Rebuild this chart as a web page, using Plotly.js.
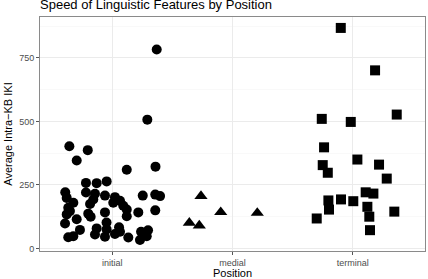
<!DOCTYPE html>
<html>
<head>
<meta charset="utf-8">
<script src="https://cdn.plot.ly/plotly-3.0.1.min.js"></script>
<style>html,body{margin:0;padding:0;background:#fff;}#chart{width:428px;height:279px;}</style>
</head>
<body>
<div id="chart"></div>
<script>
// Category labels and their positions on the x axis
const categories = ["initial", "medial", "terminal"];
const categoryPos = [1, 2, 3];

// initial (circles): jittered x position and Average Intra-KB IKI
const initialX = [1.370, 1.292, 0.644, 0.797, 0.705, 1.121, 1.360, 0.782, 0.871, 0.954,
  0.610, 0.622, 0.782, 0.857, 0.940, 1.023, 1.065, 1.254, 1.358, 1.398,
  0.677, 0.635, 0.816, 0.843, 1.092, 1.009, 0.940, 0.622, 0.801, 1.121,
  1.217, 1.358, 0.705, 0.608, 0.953, 0.732, 0.871, 0.954, 1.057, 1.065,
  1.240, 1.298, 0.635, 0.677, 0.857, 0.940, 1.023, 1.134, 1.231, 1.287,
  1.121, 0.821, 0.649];
const initialY = [783, 507, 402, 387, 346, 310, 322, 258, 257, 264,
  221, 199, 220, 215, 208, 202, 188, 208, 212, 206,
  180, 160, 175, 193, 168, 180, 142, 134, 137, 127,
  142, 150, 115, 98, 102, 73, 79, 75, 83, 66,
  66, 72, 44, 48, 55, 46, 57, 43, 33, 48,
  153, 125, 147];

// medial (triangles)
const medialX = [1.738, 1.902, 2.206, 1.641, 1.724];
const medialY = [206, 143, 140, 101, 90];

// terminal (squares)
const terminalX = [2.900, 3.185, 2.742, 2.983, 3.365, 2.761, 3.038, 2.750, 3.218, 2.792,
  3.282, 3.107, 3.171, 2.797, 2.902, 3.004, 3.121, 2.802, 3.345, 2.700,
  3.137, 3.143];
const terminalY = [868, 701, 510, 498, 527, 398, 350, 328, 330, 298,
  275, 221, 216, 189, 193, 186, 164, 153, 145, 118,
  125, 72];

const yTicks = [0, 250, 500, 750];

const traces = [
  {x: initialX, y: initialY, type: "scatter", mode: "markers", name: "initial",
   marker: {symbol: "circle", size: 10, color: "#000"}},
  {x: medialX, y: medialY, type: "scatter", mode: "markers", name: "medial",
   marker: {symbol: "triangle-up", size: 11.5, color: "#000"}},
  {x: terminalX, y: terminalY, type: "scatter", mode: "markers", name: "terminal",
   marker: {symbol: "square", size: 10, color: "#000"}}
];

const tickFont = {family: "Liberation Sans, Arial, sans-serif", size: 9, color: "#4d4d4d"};
const titleFont = {family: "Liberation Sans, Arial, sans-serif", size: 11, color: "#000"};

const layout = {
  width: 428, height: 279,
  margin: {l: 40, r: 3, t: 17, b: 28, pad: 0},
  paper_bgcolor: "#fff", plot_bgcolor: "#fff",
  showlegend: false,
  title: {text: "Speed of Linguistic Features by Position",
    font: {family: "Liberation Sans, Arial, sans-serif", size: 13, color: "#000"},
    x: 40/428, xref: "container", xanchor: "left",
    y: 1 - 4.5/279, yref: "container", yanchor: "middle"},
  xaxis: {
    range: [0.4, 3.6], tickvals: categoryPos, ticktext: categories,
    showgrid: true, gridcolor: "#ebebeb", gridwidth: 1, zeroline: false,
    showline: true, mirror: true, linecolor: "#8a8a8a", linewidth: 1,
    ticks: "outside", ticklen: 3, tickcolor: "#555", tickwidth: 1,
    tickfont: tickFont,
    title: {text: "Position", font: titleFont, standoff: 2}
  },
  yaxis: {
    range: [-10, 911], tickvals: yTicks, ticktext: yTicks.map(String),
    showgrid: true, gridcolor: "#ebebeb", gridwidth: 1, zeroline: false,
    showline: true, mirror: true, linecolor: "#8a8a8a", linewidth: 1,
    ticks: "outside", ticklen: 3, tickcolor: "#555", tickwidth: 1,
    tickfont: tickFont,
    minor: {tickvals: [125, 375, 625, 875], showgrid: true, gridcolor: "#f5f5f5", gridwidth: 0.6, ticks: ""},
    title: {text: "Average Intra\u2212KB IKI", font: titleFont, standoff: 4}
  }
};

Plotly.newPlot("chart", traces, layout, {staticPlot: true, displayModeBar: false});
</script>
</body>
</html>
